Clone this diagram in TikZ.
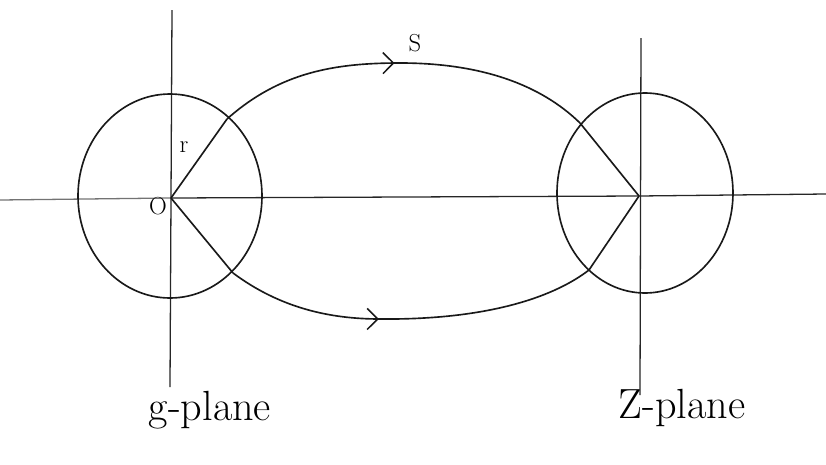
\documentclass[tikz,border=0pt]{standalone}
\usepackage{tikz}
\usetikzlibrary{arrows.meta, decorations.markings}

\begin{document}
\begin{tikzpicture}[
        x=0.03cm, y=-0.03cm,
        axis/.style={line width=1.1pt, black!85},
        curve/.style={line width=1.4pt, black!90},
        ray/.style={line width=1.4pt, black!90},
        flow/.style={curve, postaction={decorate}, decoration={markings,
            mark=at position #1 with {\arrow{Straight Barb[length=9pt, width=18pt, line width=1.3pt]}}}},
        tag/.style={font=\fontsize{21}{24}\selectfont, inner sep=1pt},
        plane/.style={font=\fontsize{36}{40}\selectfont, inner sep=1pt}
    ]
        \useasboundingbox (0,0) rectangle (826,464);

        % Centres and points on the circles
        \coordinate (Og) at (171,198);
        \coordinate (Oz) at (639,196);
        \coordinate (gup) at (227,119);
        \coordinate (glo) at (233,273);
        \coordinate (zup) at (580,123);
        \coordinate (zlo) at (589,270);

        % Axes
        \draw [axis, black!55] (0,200) -- (Og);
        \draw [axis] (Og) -- (Oz) -- (826,194);
        \draw [axis] (172,10) -- (170,387);
        \draw [axis] (641,38) -- (640,395);

        % Circles
        \draw [curve] (170,196) ellipse [x radius=92, y radius=102];
        \draw [curve] (645,193) ellipse [x radius=88, y radius=100];

        % Radii
        \draw [ray] (Og) -- (gup);
        \draw [ray] (Og) -- (glo);
        \draw [ray] (Oz) -- (zup);
        \draw [ray] (Oz) -- (zlo);

        % Mappings
        \draw [flow=0.475] (gup) .. controls (280,72) and (335,63) .. (400,63)
            .. controls (480,63) and (540,84) .. (zup);
        \draw [flow=0.415] (glo) .. controls (280,308) and (330,319) .. (380,319)
            .. controls (480,320) and (550,300) .. (zlo);

        % Labels
        \node (r) [tag] at (184,147) {r};
        \node (o) [tag] at (158,206) {O};
        \node (s) [tag] at (415,43) {S};
        \node (gplane) [plane] at (210,410) {g-plane};
        \node (zplane) [plane] at (682,408) {Z-plane};
    \end{tikzpicture}
\end{document}
